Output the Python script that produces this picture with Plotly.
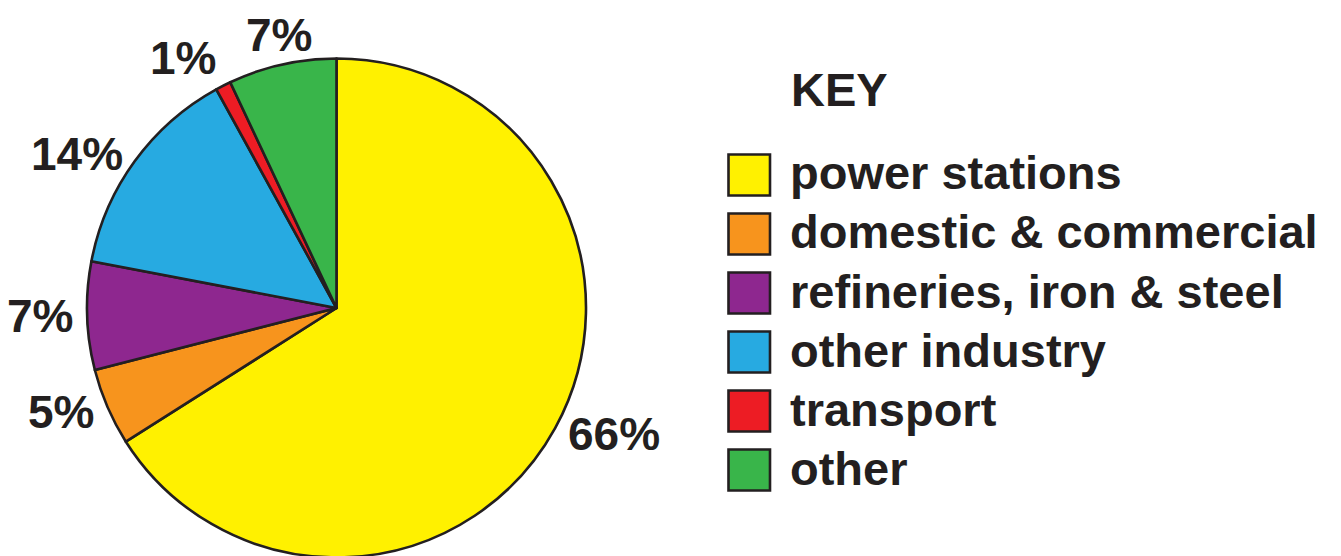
import math
import plotly.graph_objects as go

categories = ["power stations", "domestic & commercial", "refineries, iron & steel",
              "other industry", "transport", "other"]
values = [66, 5, 7, 14, 1, 7]
colors = ["#FFF100", "#F7941D", "#8E278F", "#27AAE1", "#ED1C24", "#39B54A"]
key_title = "KEY"

W, H = 1341, 556
OFF = 8  # page body margin of the browser
INK = "#231F20"
FONT = "Liberation Sans, Arial, Helvetica, sans-serif"

def px(x):
    return (x - OFF) / W

def py(y):
    return 1 - (y - OFF) / H

# pie geometry (page pixels)
CX, CY, R = 336.5, 308.0, 249.5
LABEL_R = 262

fig = go.Figure()
fig.add_trace(go.Pie(
    labels=categories,
    values=values,
    sort=False,
    direction="clockwise",
    rotation=0,
    marker=dict(colors=colors, line=dict(color=INK, width=2.6)),
    textinfo="none",
    domain=dict(x=[px(CX - R), px(CX + R)], y=[py(CY + R), py(CY - R)]),
    showlegend=False,
    hoverinfo="label+percent",
))

annotations = []
# percentage labels placed outside each slice at its mid-angle
total = float(sum(values))
cum = 0.0
for v in values:
    mid = (cum + v / 2.0) / total * 2 * math.pi
    cum += v
    s, c = math.sin(mid), math.cos(mid)
    x = CX + LABEL_R * s
    y = CY - LABEL_R * c
    xanchor = "left" if s > 0.3 else ("right" if s < -0.3 else "center")
    yshift = 17 if c > 0.7 else (-17 if c < -0.7 else 0)
    annotations.append(dict(
        x=px(x), y=py(y), xref="paper", yref="paper",
        xanchor=xanchor, yanchor="middle", yshift=yshift,
        text="<b>%d%%</b>" % v, showarrow=False,
        font=dict(family=FONT, size=46, color=INK),
    ))

# key
annotations.append(dict(
    x=px(789), y=py(90), xref="paper", yref="paper", xanchor="left", yanchor="middle",
    text="<b>%s</b>" % key_title, showarrow=False,
    font=dict(family=FONT, size=47, color=INK),
))
shapes = []
row0, step = 175, 59
for i, (cat, col) in enumerate(zip(categories, colors)):
    cy = row0 + i * step
    shapes.append(dict(
        type="rect", xref="paper", yref="paper",
        x0=px(728.5), x1=px(770), y0=py(cy - 20.5), y1=py(cy + 20.5),
        fillcolor=col, line=dict(color=INK, width=2.6),
    ))
    annotations.append(dict(
        x=px(788), y=py(cy - 2), xref="paper", yref="paper", xanchor="left", yanchor="middle",
        text="<b>%s</b>" % cat, showarrow=False,
        font=dict(family=FONT, size=47, color=INK),
    ))

fig.update_layout(
    width=W, height=H,
    margin=dict(l=0, r=0, t=0, b=0, autoexpand=False),
    paper_bgcolor="white", plot_bgcolor="white",
    annotations=annotations, shapes=shapes,
)
fig.write_html("out.html")
